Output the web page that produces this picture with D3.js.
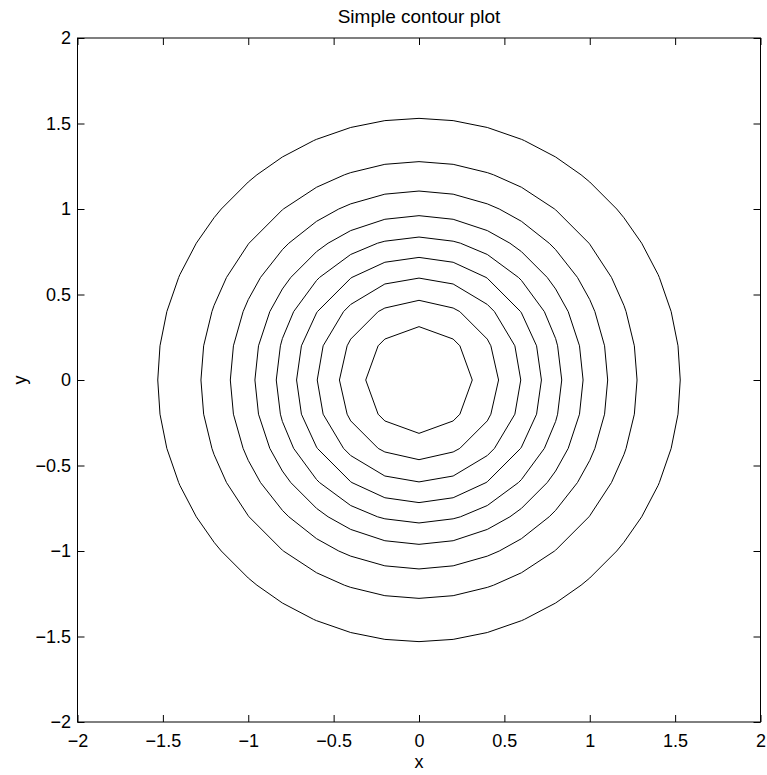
<!DOCTYPE html>
<html>
<head>
<meta charset="utf-8">
<script src="https://cdn.jsdelivr.net/npm/d3@7"></script>
<style>
  body { margin: 0; background: #fff; }
  svg text { font-family: "Liberation Sans", Arial, sans-serif; fill: #000; }
</style>
</head>
<body>
<script>
// contour radii (distance from the origin where each level line crosses the axes)
var radii = [0.312, 0.466, 0.596, 0.717, 0.836, 0.961, 1.105, 1.277, 1.530];
var gridStep = 0.2;   // mesh spacing of the sampled surface
var ticks = [-2, -1.5, -1, -0.5, 0, 0.5, 1, 1.5, 2];

var W = 767, H = 775;
var margin = {left: 77.5, right: 6.5, top: 38, bottom: 53};
var width = W - margin.left - margin.right,
    height = H - margin.top - margin.bottom;

var svg = d3.select("body").append("svg")
    .attr("width", W)
    .attr("height", H);

var g = svg.append("g")
    .attr("transform", "translate(" + margin.left + "," + margin.top + ")");

var x = d3.scaleLinear().domain([-2, 2]).range([0, width]);
var y = d3.scaleLinear().domain([-2, 2]).range([height, 0]);

// grid lines of the mesh, the level lines are straight between their crossings
var gridVals = d3.range(-10, 11).map(function (k) { return k * gridStep; });

function ring(r) {
    var pts = [];
    gridVals.forEach(function (v) {
        if (Math.abs(v) < r) {
            var w = Math.sqrt(r * r - v * v);
            pts.push([v, w], [v, -w], [w, v], [-w, v]);
        }
    });
    pts.sort(function (a, b) { return Math.atan2(a[1], a[0]) - Math.atan2(b[1], b[0]); });
    // drop duplicates
    return pts.filter(function (p, i) {
        if (i == 0) return true;
        var q = pts[i - 1];
        return Math.abs(p[0] - q[0]) > 1e-6 || Math.abs(p[1] - q[1]) > 1e-6;
    });
}

var line = d3.line()
    .x(function (d) { return x(d[0]); })
    .y(function (d) { return y(d[1]); })
    .curve(d3.curveLinearClosed);

g.selectAll("path.contour")
    .data(radii)
    .enter().append("path")
    .attr("class", "contour")
    .attr("d", function (r) { return line(ring(r)); })
    .attr("fill", "none")
    .attr("stroke", "#000")
    .attr("stroke-width", 1);

// axes, ticks pointing inward like matlab
var fmt = function (d) { return d3.format("")(d).replace("-", "\u2212"); };

var axBottom = g.append("g")
    .attr("transform", "translate(0," + height + ")")
    .call(d3.axisBottom(x).tickValues(ticks).tickSize(-7).tickPadding(12).tickFormat(fmt));
var axTop = g.append("g")
    .call(d3.axisTop(x).tickValues(ticks).tickSize(-7).tickFormat(""));
var axLeft = g.append("g")
    .call(d3.axisLeft(y).tickValues(ticks).tickSize(-7).tickPadding(6.5).tickFormat(fmt));
var axRight = g.append("g")
    .attr("transform", "translate(" + width + ",0)")
    .call(d3.axisRight(y).tickValues(ticks).tickSize(-7).tickFormat(""));

[axBottom, axTop, axLeft, axRight].forEach(function (a) {
    a.select(".domain").remove();
    a.attr("font-size", null).attr("font-family", null);
    a.selectAll("text").attr("font-size", 18);
    a.selectAll("line").attr("stroke", "#000");
});
[axTop, axRight].forEach(function (a) { a.selectAll("text").remove(); });

g.append("rect")
    .attr("width", width)
    .attr("height", height)
    .attr("fill", "none")
    .attr("stroke", "#000")
    .attr("stroke-width", 1);

svg.append("text")
    .attr("x", margin.left + width / 2)
    .attr("y", 23)
    .attr("text-anchor", "middle")
    .attr("font-size", 19)
    .text("Simple contour plot");

svg.append("text")
    .attr("x", margin.left + width / 2)
    .attr("y", 768)
    .attr("text-anchor", "middle")
    .attr("font-size", 18)
    .text("x");

svg.append("text")
    .attr("transform", "translate(26," + (margin.top + height / 2) + ") rotate(-90)")
    .attr("text-anchor", "middle")
    .attr("font-size", 18)
    .text("y");
</script>
</body>
</html>
